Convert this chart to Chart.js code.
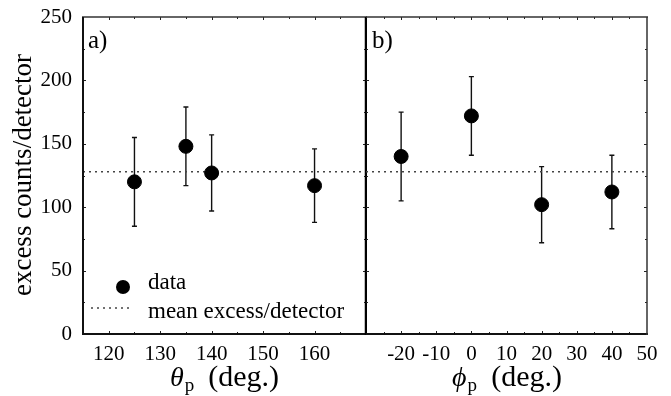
<!DOCTYPE html>
<html>
<head>
<meta charset="utf-8">
<script src="https://cdn.jsdelivr.net/npm/chart.js@4.4.0/dist/chart.umd.min.js"></script>
<style>
  body { margin: 0; background: #fff; }
  #wrap { position: relative; width: 671px; height: 396px; }
  canvas { position: absolute; top: 0; }
</style>
</head>
<body>
<div id="wrap">
  <canvas id="theta-chart" width="367" height="396" style="left:0"></canvas>
  <canvas id="phi-chart" width="305" height="396" style="left:366px"></canvas>
</div>
<script>
// values
const thetaAngles = [125, 135, 140, 160];
const thetaCounts = [120, 148, 127, 117];
const thetaErrors = [35, 31, 30, 29];

const phiAngles = [-20, 0, 20, 40];
const phiCounts = [140, 172, 102, 112];
const phiErrors = [35, 31, 30, 29];

const meanExcess = 128;

const thetaRange = [115, 170];
const phiRange = [-30, 50];
const countRange = [0, 250];

const SERIF = '"Liberation Serif", "DejaVu Serif", serif';

// frame, inward ticks, error bars and the text around each panel
const decor = (cfg) => ({
  id: "decor",
  beforeDatasetsDraw(chart) {
    const { ctx, scales: { x, y } } = chart;
    ctx.save();
    ctx.strokeStyle = "#111";
    ctx.lineWidth = 1.4;
    cfg.angles.forEach((ang, i) => {
      const px = x.getPixelForValue(ang);
      const top = y.getPixelForValue(cfg.counts[i] + cfg.errors[i]);
      const bot = y.getPixelForValue(cfg.counts[i] - cfg.errors[i]);
      ctx.beginPath();
      ctx.moveTo(px, top); ctx.lineTo(px, bot);
      ctx.moveTo(px - 2.5, top); ctx.lineTo(px + 2.5, top);
      ctx.moveTo(px - 2.5, bot); ctx.lineTo(px + 2.5, bot);
      ctx.stroke();
    });
    ctx.restore();
  },
  afterDraw(chart) {
    const { ctx, chartArea: a, scales: { x, y } } = chart;
    const off = cfg.offset;
    ctx.save();

    // tiny inward ticks
    ctx.strokeStyle = "#222";
    ctx.lineWidth = 1;
    ctx.beginPath();
    x.ticks.forEach((t) => {
      if (t.value === x.min || t.value === x.max) return;
      const px = Math.round(x.getPixelForValue(t.value)) + 0.5;
      const len = t.value % 10 === 0 ? 3 : 2;
      ctx.moveTo(px, a.bottom); ctx.lineTo(px, a.bottom - len);
      ctx.moveTo(px, a.top); ctx.lineTo(px, a.top + len);
    });
    y.ticks.forEach((t) => {
      if (t.value === y.min || t.value === y.max) return;
      const py = Math.round(y.getPixelForValue(t.value)) + 0.5;
      const len = t.value % 50 === 0 ? 3 : 2;
      ctx.moveTo(a.left, py); ctx.lineTo(a.left + len, py);
      ctx.moveTo(a.right, py); ctx.lineTo(a.right - len, py);
    });
    ctx.stroke();

    // frame
    const line = (x1, y1, x2, y2, w, c) => {
      ctx.beginPath();
      ctx.strokeStyle = c;
      ctx.lineWidth = w;
      ctx.moveTo(x1, y1); ctx.lineTo(x2, y2);
      ctx.stroke();
    };
    line(a.left - 1, a.top, a.right + 1, a.top, 1.5, "#333");
    line(a.left - 1, a.bottom, a.right + 1, a.bottom, 2, "#111");
    if (cfg.showY) {
      line(a.left, a.top, a.left, a.bottom + 1, 2, "#111");
      line(a.right, a.top, a.right, a.bottom + 1, 2.5, "#000");
    } else {
      line(a.right, a.top, a.right, a.bottom + 1, 1.5, "#333");
    }

    // panel label
    ctx.fillStyle = "#000";
    ctx.textBaseline = "alphabetic";
    ctx.textAlign = "left";
    ctx.font = "25px " + SERIF;
    ctx.fillText(cfg.panel, cfg.panelX - off, 48);

    // x axis title: symbol with subscript p, then (deg.)
    ctx.font = "italic 28px " + SERIF;
    ctx.fillText(cfg.symbol, cfg.symbolX - off, 386);
    const sw = ctx.measureText(cfg.symbol).width;
    ctx.font = "19px " + SERIF;
    ctx.fillText("p", cfg.symbolX - off + sw + 1, 391);
    ctx.font = "30px " + SERIF;
    ctx.textAlign = "right";
    ctx.fillText("(deg.)", cfg.degRight - off, 386);

    if (cfg.showY) {
      // y axis title
      ctx.save();
      ctx.translate(24, 175);
      ctx.rotate(-Math.PI / 2);
      ctx.textAlign = "center";
      ctx.textBaseline = "middle";
      ctx.font = "27px " + SERIF;
      ctx.fillText("excess counts/detector", 0, 0);
      ctx.restore();

      // legend
      ctx.textAlign = "left";
      ctx.font = "23px " + SERIF;
      ctx.beginPath();
      ctx.arc(123, 287, 7, 0, Math.PI * 2);
      ctx.fill();
      ctx.fillText("data", 148, 289);
      ctx.strokeStyle = "#444";
      ctx.lineWidth = 1.5;
      ctx.setLineDash([2, 4]);
      ctx.beginPath();
      ctx.moveTo(91, 308); ctx.lineTo(129, 308);
      ctx.stroke();
      ctx.setLineDash([]);
      ctx.fillText("mean excess/detector", 148, 318);
    }
    ctx.restore();
  },
});

const makePanel = (canvasId, cfg) => {
  const ctx = document.getElementById(canvasId);
  const points = cfg.angles.map((a, i) => ({ x: a, y: cfg.counts[i] }));

  new Chart(ctx, {
    type: "scatter",
    data: {
      datasets: [
        {
          label: "data",
          data: points,
          backgroundColor: "#000",
          borderColor: "#000",
          pointRadius: 7,
          pointHoverRadius: 7,
        },
        {
          type: "line",
          label: "mean excess/detector",
          data: [
            { x: cfg.range[0], y: meanExcess },
            { x: cfg.range[1], y: meanExcess },
          ],
          borderColor: "#444",
          borderWidth: 1.5,
          borderDash: [2, 4],
          pointRadius: 0,
          fill: false,
        },
      ],
    },
    options: {
      responsive: false,
      animation: false,
      events: [],
      layout: {
        autoPadding: false,
        padding: { top: 17, left: 0, right: cfg.padRight, bottom: 0 },
      },
      plugins: { legend: { display: false }, tooltip: { enabled: false } },
      scales: {
        x: {
          type: "linear",
          min: cfg.range[0],
          max: cfg.range[1],
          grid: { display: false, drawTicks: false },
          border: { display: false },
          ticks: {
            stepSize: 5,
            autoSkip: false,
            maxRotation: 0,
            padding: 8,
            color: "#000",
            font: { family: SERIF, size: 21 },
            callback: cfg.xLabel,
          },
          afterFit: (s) => {
            s.height = 62;
            s.paddingLeft = 0;
            s.paddingRight = 0;
          },
        },
        y: {
          min: countRange[0],
          max: countRange[1],
          display: cfg.showY,
          grid: { display: false, drawTicks: false },
          border: { display: false },
          ticks: {
            stepSize: 25,
            padding: 11,
            color: "#000",
            font: { family: SERIF, size: 21 },
            callback: (v) => (v % 50 === 0 ? v : ""),
          },
          afterFit: (s) => {
            s.width = cfg.showY ? 83 : 0;
            s.paddingTop = 0;
            s.paddingBottom = 0;
          },
        },
      },
    },
    plugins: [decor(cfg)],
  });
};

makePanel("theta-chart", {
  angles: thetaAngles,
  counts: thetaCounts,
  errors: thetaErrors,
  range: thetaRange,
  showY: true,
  padRight: 1,
  offset: 0,
  panel: "a)",
  panelX: 88,
  symbol: "θ",
  symbolX: 170,
  degRight: 279,
  xLabel: (v) => (v % 10 === 0 && v >= 120 && v <= 160 ? v : ""),
});

makePanel("phi-chart", {
  angles: phiAngles,
  counts: phiCounts,
  errors: phiErrors,
  range: phiRange,
  showY: false,
  padRight: 24,
  offset: 366,
  panel: "b)",
  panelX: 372,
  symbol: "ϕ",
  symbolX: 452,
  degRight: 562,
  xLabel: (v) => (v % 10 === 0 && v > -30 ? v : ""),
});
</script>
</body>
</html>
